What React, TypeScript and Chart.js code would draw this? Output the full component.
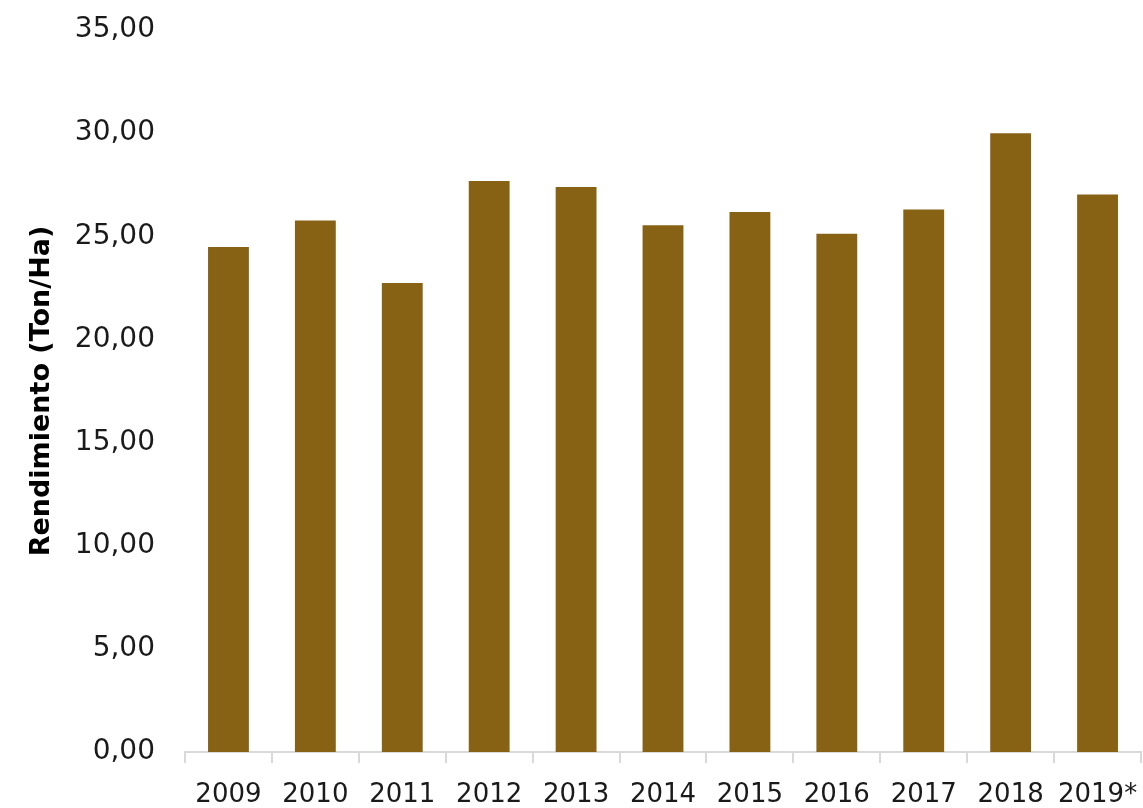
import React, { useEffect, useRef } from "react";
import { Chart, registerables } from "chart.js";

Chart.register(...registerables);

const categories = ["2009", "2010", "2011", "2012", "2013", "2014", "2015", "2016", "2017", "2018", "2019*"];
const rendimiento = [24.48, 25.77, 22.73, 27.68, 27.39, 25.53, 26.18, 25.12, 26.3, 29.99, 27.03];
const yTitle = "Rendimiento (Ton/Ha)";
const yMin = 0;
const yMax = 35;
const yStep = 5;

const BAR_COLOR = "#876114";
const FONT = "'DejaVu Sans', sans-serif";

export default function App() {
  const canvasRef = useRef<HTMLCanvasElement | null>(null);

  useEffect(() => {
    document.body.style.margin = "0";
    const canvas = canvasRef.current;
    if (!canvas) return;
    const chart = new Chart(canvas, {
      type: "bar",
      data: {
        labels: categories,
        datasets: [
          {
            data: rendimiento,
            backgroundColor: BAR_COLOR,
            borderWidth: 0,
            categoryPercentage: 1,
            barPercentage: 0.47,
          },
        ],
      },
      options: {
        responsive: false,
        animation: false,
        maintainAspectRatio: false,
        layout: { padding: { top: 30, right: 2, bottom: 0, left: 26 } },
        plugins: {
          legend: { display: false },
          tooltip: { enabled: false },
          title: { display: false },
        },
        scales: {
          x: {
            grid: {
              display: true,
              drawOnChartArea: false,
              drawTicks: true,
              tickLength: 11,
              offset: true,
              color: "#d9d9d9",
              lineWidth: 2,
            },
            border: { display: true, color: "#d9d9d9", width: 2 },
            ticks: {
              color: "#1a1a1a",
              font: { family: FONT, size: 26 },
              padding: 17,
              maxRotation: 0,
              autoSkip: false,
            },
            afterFit: (scale: any) => {
              scale.height = 56;
              scale.paddingLeft = 0;
              scale.paddingRight = 0;
            },
          },
          y: {
            min: yMin,
            max: yMax,
            grid: { display: false, drawTicks: false },
            border: { display: false },
            ticks: {
              stepSize: yStep,
              color: "#1a1a1a",
              font: { family: FONT, size: 28 },
              padding: 30,
              callback: (v: any) => Number(v).toFixed(2).replace(".", ","),
            },
            title: {
              display: true,
              text: yTitle,
              color: "#000000",
              font: { family: FONT, size: 27, weight: "bold" },
              padding: { top: 0, bottom: 0 },
            },
            afterFit: (scale: any) => {
              scale.width = 159;
              scale.paddingTop = 16;
              scale.paddingBottom = 16;
            },
          },
        },
      },
    });
    return () => chart.destroy();
  }, []);

  return (
    <div style={{ width: 1143, height: 808, background: "#ffffff", position: "relative" }}>
      <canvas ref={canvasRef} width={1143} height={808} style={{ display: "block" }} />
    </div>
  );
}
